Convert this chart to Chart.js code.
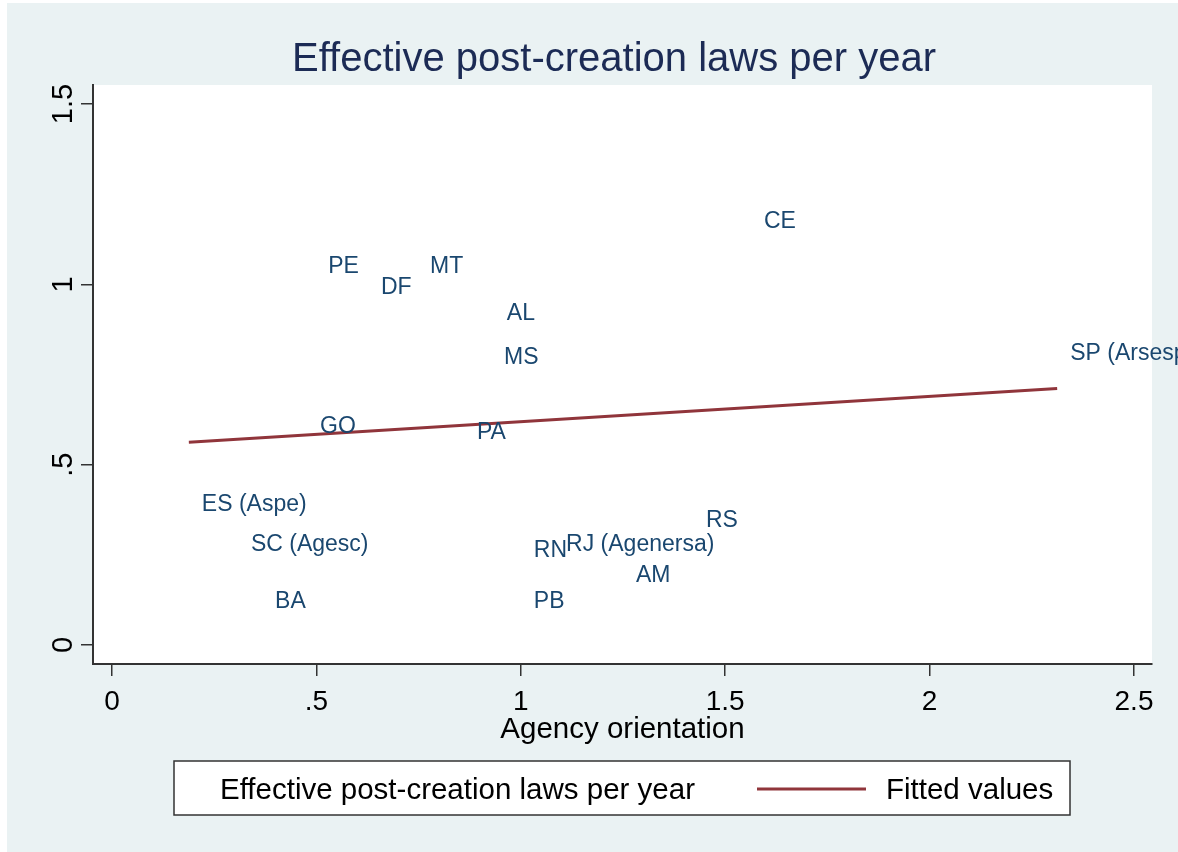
<!DOCTYPE html>
<html>
<head>
<meta charset="utf-8">
<script src="https://cdn.jsdelivr.net/npm/chart.js@4/dist/chart.umd.min.js"></script>
<style>
  html, body { margin: 0; padding: 0; background: #fff; }
  canvas { display: block; }
</style>
</head>
<body>
<canvas id="scatterChart" width="1178" height="852"></canvas>
<script>
// data
const states = ["CE", "PE", "DF", "MT", "AL", "MS", "SP (Arsesp)", "GO", "PA",
  "ES (Aspe)", "SC (Agesc)", "BA", "RN", "RJ (Agenersa)", "RS", "AM", "PB"];
const orientation = [1.563, 0.497, 0.626, 0.746, 0.934, 0.927, 2.312, 0.477, 0.861,
  0.188, 0.308, 0.367, 1.0, 1.079, 1.421, 1.25, 1.0];
const lawsPerYear = [1.179, 1.055, 0.996, 1.055, 0.924, 0.803, 0.814, 0.612, 0.595,
  0.396, 0.285, 0.125, 0.268, 0.285, 0.349, 0.197, 0.125];
const fitX = [0.188, 2.312];
const fitY = [0.562, 0.711];
const xTicks = [0, 0.5, 1, 1.5, 2, 2.5];
const yTicks = [0, 0.5, 1, 1.5];

const FONT = "'Liberation Sans', Arial, sans-serif";
const navy = "#1a476f";
const maroon = "#90353b";

function tickText(v) {
  // stata style: .5 instead of 0.5
  return String(v).replace(/^0\./, ".");
}

// backgrounds, title, tick labels, point labels, legend
const stataPlugin = {
  id: "stataLook",
  beforeDraw(chart) {
    const c = chart.ctx;
    const a = chart.chartArea;
    c.save();
    c.fillStyle = "#fff";
    c.fillRect(0, 0, chart.width, chart.height);
    c.fillStyle = "#eaf2f3";
    c.fillRect(7, 3, chart.width - 7, chart.height - 3);
    c.fillStyle = "#fff";
    c.fillRect(a.left, a.top, a.right - a.left, a.bottom - a.top);
    c.restore();
  },
  afterDraw(chart) {
    const c = chart.ctx;
    const xs = chart.scales.x;
    const ys = chart.scales.y;
    c.save();

    // title
    c.fillStyle = "#1c2b55";
    c.font = "40px " + FONT;
    c.textAlign = "center";
    c.textBaseline = "alphabetic";
    c.fillText("Effective post-creation laws per year", 614, 71);

    // x tick labels
    c.fillStyle = "#000";
    c.font = "28px " + FONT;
    xTicks.forEach(v => {
      c.fillText(tickText(v), xs.getPixelForValue(v), 710);
    });

    // x axis title
    c.font = "29.5px " + FONT;
    c.fillText("Agency orientation", (xs.left + xs.right) / 2, 738);

    // y tick labels, rotated
    c.font = "29px " + FONT;
    yTicks.forEach(v => {
      c.save();
      c.translate(72, ys.getPixelForValue(v));
      c.rotate(-Math.PI / 2);
      c.textAlign = "center";
      c.fillText(tickText(v), 0, 0);
      c.restore();
    });

    // marker labels (markers themselves are hidden)
    c.fillStyle = navy;
    c.font = "23px " + FONT;
    c.textAlign = "left";
    c.textBaseline = "middle";
    const meta = chart.getDatasetMeta(0);
    meta.data.forEach((pt, i) => {
      c.fillText(states[i], pt.x + 13, pt.y + 2);
    });

    // legend
    c.fillStyle = "#fff";
    c.fillRect(174, 761, 896, 54);
    c.strokeStyle = "#333";
    c.lineWidth = 1.5;
    c.strokeRect(174, 761, 896, 54);
    c.fillStyle = "#000";
    c.font = "29.5px " + FONT;
    c.textBaseline = "alphabetic";
    c.fillText("Effective post-creation laws per year", 220, 799);
    c.fillText("Fitted values", 886, 799);
    c.strokeStyle = maroon;
    c.lineWidth = 3;
    c.beginPath();
    c.moveTo(757, 789);
    c.lineTo(866, 789);
    c.stroke();

    c.restore();
  }
};

const ctx = document.getElementById("scatterChart").getContext("2d");
const scatterChart = new Chart(ctx, {
  type: "scatter",
  data: {
    datasets: [
      {
        label: "Effective post-creation laws per year",
        data: orientation.map((x, i) => ({ x: x, y: lawsPerYear[i] })),
        pointRadius: 0,
        pointHoverRadius: 0,
        backgroundColor: navy,
      },
      {
        label: "Fitted values",
        type: "line",
        data: fitX.map((x, i) => ({ x: x, y: fitY[i] })),
        borderColor: maroon,
        borderWidth: 3,
        pointRadius: 0,
        fill: false,
        tension: 0,
      },
    ],
  },
  options: {
    responsive: false,
    animation: false,
    layout: {
      padding: { top: 85, left: 7, right: 26, bottom: 108 },
    },
    plugins: {
      legend: { display: false },
      title: { display: false },
      tooltip: { enabled: false },
    },
    scales: {
      x: {
        type: "linear",
        min: -0.0465,
        max: 2.544,
        afterBuildTicks: (scale) => {
          scale.ticks = xTicks.map(v => ({ value: v }));
        },
        afterFit: (scale) => {
          scale.height = 80;
        },
        ticks: { display: false },
        grid: {
          display: true,
          drawOnChartArea: false,
          drawTicks: true,
          tickLength: 12,
          color: "#333",
          lineWidth: 1.5,
        },
        border: { display: true, color: "#333", width: 2 },
      },
      y: {
        type: "linear",
        min: -0.0526,
        max: 1.5526,
        afterBuildTicks: (scale) => {
          scale.ticks = yTicks.map(v => ({ value: v }));
        },
        afterFit: (scale) => {
          scale.width = 86;
        },
        ticks: { display: false },
        grid: {
          display: true,
          drawOnChartArea: false,
          drawTicks: true,
          tickLength: 12,
          color: "#333",
          lineWidth: 1.5,
        },
        border: { display: true, color: "#333", width: 2 },
      },
    },
  },
  plugins: [stataPlugin],
});
</script>
</body>
</html>
